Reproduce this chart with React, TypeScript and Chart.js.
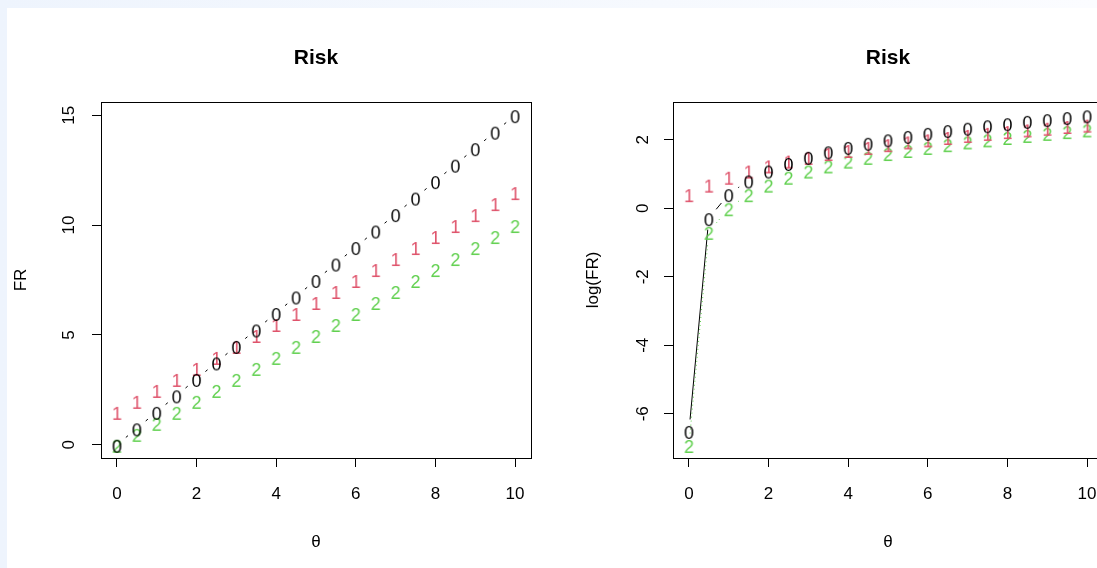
import React, { useEffect, useRef } from 'react';
import { Chart, registerables } from 'chart.js';

Chart.register(...registerables);

// ---- data ----
const theta = [0.001, 0.5, 1, 1.5, 2, 2.5, 3, 3.5, 4, 4.5, 5, 5.5, 6, 6.5, 7, 7.5, 8, 8.5, 9, 9.5, 10];
const fr0 = [0.0015, 0.75, 1.5, 2.25, 3, 3.75, 4.5, 5.25, 6, 6.75, 7.5, 8.25, 9, 9.75, 10.5, 11.25, 12, 12.75, 13.5, 14.25, 15];
const fr1 = [1.5, 2, 2.5, 3, 3.5, 4, 4.5, 5, 5.5, 6, 6.5, 7, 7.5, 8, 8.5, 9, 9.5, 10, 10.5, 11, 11.5];
const fr2 = [0.001, 0.5, 1, 1.5, 2, 2.5, 3, 3.5, 4, 4.5, 5, 5.5, 6, 6.5, 7, 7.5, 8, 8.5, 9, 9.5, 10];
const logFr0 = [-6.50, -0.29, 0.41, 0.81, 1.10, 1.32, 1.50, 1.66, 1.79, 1.91, 2.01, 2.11, 2.20, 2.28, 2.35, 2.42, 2.48, 2.55, 2.60, 2.66, 2.71];
const logFr1 = [0.41, 0.69, 0.92, 1.10, 1.25, 1.39, 1.50, 1.61, 1.70, 1.79, 1.87, 1.95, 2.01, 2.08, 2.14, 2.20, 2.25, 2.30, 2.35, 2.40, 2.44];
const logFr2 = [-6.91, -0.69, 0.00, 0.41, 0.69, 0.92, 1.10, 1.25, 1.39, 1.50, 1.61, 1.70, 1.79, 1.87, 1.95, 2.01, 2.08, 2.14, 2.20, 2.25, 2.30];
const seriesSymbols = ['0', '1', '2'];
const xTicks = [0, 2, 4, 6, 8, 10];
const frTicks = [0, 5, 10, 15];
const logTicks = [-6, -4, -2, 0, 2];
const chartTitle = 'Risk';
const xTitle = 'θ';
const frTitle = 'FR';
const logTitle = 'log(FR)';

// ---- styles ----
const COLORS = ['#000000', '#DF536B', '#61D04F'];
const DASHES = [[], [4, 4], [1, 3]];
const FONT = '"Liberation Sans", Arial, Helvetica, sans-serif';
const TICK_SIZE = 17;
const PCH_SIZE = 18;
const TITLE_SIZE = 21;
const CANVAS_W = 572;
const CANVAS_H = 560;
const GAP = 11.5;

function makeGlyph(ch: string, color: string, size: number): HTMLCanvasElement {
  const c = document.createElement('canvas');
  const w = Math.ceil(size * 0.9);
  const h = Math.ceil(size * 1.4);
  c.width = w;
  c.height = h;
  const ctx = c.getContext('2d')!;
  ctx.font = `${size}px ${FONT}`;
  ctx.fillStyle = color;
  ctx.textAlign = 'center';
  ctx.textBaseline = 'alphabetic';
  ctx.fillText(ch, w / 2, h / 2 + (size * 0.716) / 2 + 2);
  return c;
}

const gappedLines = {
  id: 'gappedLines',
  beforeDatasetsDraw(chart: any) {
    const ctx = chart.ctx;
    const area = chart.chartArea;
    ctx.save();
    ctx.beginPath();
    ctx.rect(area.left, area.top, area.right - area.left, area.bottom - area.top);
    ctx.clip();
    chart.data.datasets.forEach((ds: any, i: number) => {
      const pts = chart.getDatasetMeta(i).data;
      ctx.save();
      ctx.strokeStyle = ds.lineColor;
      ctx.lineWidth = 1;
      ctx.setLineDash(ds.lineDash || []);
      for (let j = 0; j < pts.length - 1; j++) {
        const a = pts[j];
        const b = pts[j + 1];
        const dx = b.x - a.x;
        const dy = b.y - a.y;
        const d = Math.hypot(dx, dy);
        if (d > 2 * GAP) {
          const ux = dx / d;
          const uy = dy / d;
          ctx.beginPath();
          ctx.moveTo(a.x + ux * GAP, a.y + uy * GAP);
          ctx.lineTo(b.x - ux * GAP, b.y - uy * GAP);
          ctx.stroke();
        }
      }
      ctx.restore();
    });
    ctx.restore();
  },
};

const plotBox = {
  id: 'plotBox',
  afterDatasetsDraw(chart: any) {
    const { ctx, chartArea: a } = chart;
    ctx.save();
    ctx.strokeStyle = '#000';
    ctx.lineWidth = 1;
    ctx.strokeRect(Math.round(a.left) + 0.5, Math.round(a.top) + 0.5, Math.round(a.right - a.left), Math.round(a.bottom - a.top));
    ctx.restore();
  },
};

function buildConfig(ys: number[][], yMin: number, yMax: number, yTicks: number[], yTitle: string): any {
  const datasets = ys.map((arr, i) => ({
    label: seriesSymbols[i],
    data: arr.map((v, j) => ({ x: theta[j], y: v })),
    pointStyle: makeGlyph(seriesSymbols[i], COLORS[i], PCH_SIZE),
    pointRadius: 5,
    pointHoverRadius: 5,
    showLine: false,
    lineColor: COLORS[i],
    lineDash: DASHES[i],
    borderColor: COLORS[i],
    backgroundColor: COLORS[i],
  }));
  return {
    type: 'scatter',
    data: { datasets },
    plugins: [gappedLines, plotBox],
    options: {
      animation: false,
      responsive: false,
      events: [],
      layout: { padding: { left: 0, right: 48, top: 0, bottom: 0 } },
      plugins: {
        legend: { display: false },
        tooltip: { enabled: false },
        title: {
          display: true,
          fullSize: false,
          text: chartTitle,
          color: '#000',
          font: { family: FONT, size: TITLE_SIZE, weight: 'bold' },
          padding: { top: 37.4, bottom: 31.4 },
        },
      },
      scales: {
        x: {
          type: 'linear',
          min: -0.4,
          max: 10.4,
          afterBuildTicks: (s: any) => { s.ticks = xTicks.map((v) => ({ value: v })); },
          afterFit: (s: any) => { s.height = CANVAS_H - 450; },
          border: { display: false },
          grid: { drawOnChartArea: false, drawTicks: true, tickLength: 9, color: '#000', lineWidth: 1 },
          ticks: { color: '#000', font: { family: FONT, size: TICK_SIZE }, padding: 17.5, maxRotation: 0, autoSkip: false },
          title: { display: true, text: xTitle, color: '#000', font: { family: FONT, size: TICK_SIZE }, padding: { top: 0, bottom: 15.8 } },
        },
        y: {
          type: 'linear',
          min: yMin,
          max: yMax,
          afterBuildTicks: (s: any) => { s.ticks = yTicks.map((v) => ({ value: v })); },
          afterFit: (s: any) => { s.width = 94; },
          border: { display: false },
          grid: { drawOnChartArea: false, drawTicks: true, tickLength: 9, color: '#000', lineWidth: 1 },
          ticks: {
            color: '#000',
            font: { family: FONT, size: TICK_SIZE },
            padding: 13.5,
            minRotation: 90,
            maxRotation: 90,
            crossAlign: 'center',
            autoSkip: false,
          },
          title: { display: true, text: yTitle, color: '#000', font: { family: FONT, size: TICK_SIZE }, padding: { top: 4.5, bottom: 0 } },
        },
      },
    },
  };
}

function Panel({ ys, yMin, yMax, yTicks, yTitle, left }: any) {
  const ref = useRef<HTMLCanvasElement | null>(null);
  useEffect(() => {
    const chart = new Chart(ref.current!, buildConfig(ys, yMin, yMax, yTicks, yTitle));
    return () => chart.destroy();
  }, []);
  return (
    <canvas
      ref={ref}
      width={CANVAS_W}
      height={CANVAS_H}
      style={{ position: 'absolute', left, top: 0, width: CANVAS_W, height: CANVAS_H, display: 'block' }}
    />
  );
}

export default function App() {
  return (
    <div
      style={{
        position: 'fixed',
        left: 0,
        top: 0,
        width: '100vw',
        height: '100vh',
        overflow: 'hidden',
        background: 'linear-gradient(to right, #EEF4FD, #F6F9FE 60%, #FBFCFF)',
      }}
    >
      <div style={{ position: 'absolute', left: 7, top: 8, right: 0, bottom: 0, background: '#fff', overflow: 'hidden' }}>
        <Panel ys={[fr0, fr1, fr2]} yMin={-0.6} yMax={15.6} yTicks={frTicks} yTitle={frTitle} left={0} />
        <Panel ys={[logFr0, logFr1, logFr2]} yMin={-7.29} yMax={3.1} yTicks={logTicks} yTitle={logTitle} left={572} />
      </div>
    </div>
  );
}
